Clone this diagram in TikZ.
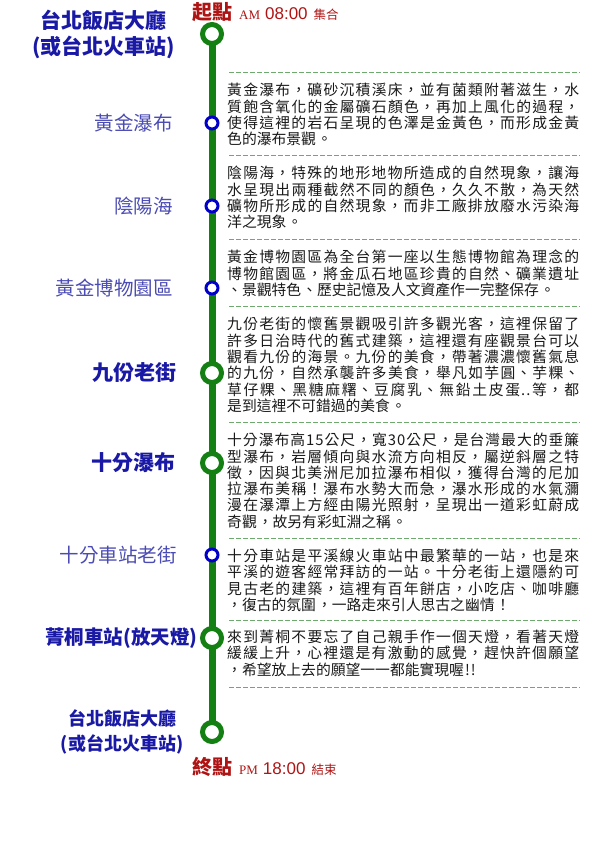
\documentclass[tikz,border=0pt]{standalone}
\usepackage{fontspec}
\setmainfont{Noto Sans CJK TC}
\newfontfamily\bodyfont[LetterSpace=7]{Noto Sans CJK TC}
\newfontfamily\timefont{Liberation Sans}
\newfontfamily\ampmfont{Liberation Serif}
\usepackage{xcolor}
\usetikzlibrary{positioning, backgrounds}
\definecolor{routegreen}{RGB}{20,128,20}
\definecolor{dashgreen}{RGB}{110,170,110}
\definecolor{stopblue}{RGB}{0,0,200}
\definecolor{namedark}{RGB}{25,25,165}
\definecolor{namelight}{RGB}{75,75,180}
\definecolor{notered}{RGB}{175,20,20}
\definecolor{bodygray}{RGB}{25,25,25}
\XeTeXlinebreaklocale "zh"
\XeTeXlinebreakskip=0pt plus 3pt
\setlength{\parindent}{0pt}

\begin{document}
\begin{tikzpicture}[
    x=1pt, y=-1pt,
    bigstop/.style={circle, draw=routegreen, line width=5pt, fill=white, minimum size=19pt, inner sep=0pt, outer sep=0pt},
    smallstop/.style={circle, draw=stopblue, line width=3pt, fill=white, minimum size=12pt, inner sep=0pt, outer sep=0pt},
    mainname/.style={font=\fontsize{21}{26}\selectfont\bfseries, text=namedark, inner sep=0pt, align=center},
    sidename/.style={font=\fontsize{19.5}{22}\selectfont, text=namelight, inner sep=0pt},
    desc/.style={anchor=north west, text width=352pt, align=justify, inner sep=0pt, font=\bodyfont\fontsize{14.8}{16.3}\selectfont, text=bodygray},
    timenote/.style={anchor=west, inner sep=0pt, text=notered},
    route/.style={routegreen, line width=7pt},
    sep/.style={dashgreen, line width=0.8pt, dash pattern=on 5pt off 2pt}
]
\useasboundingbox (0,0) rectangle (590,850);

\node[bigstop] (start) at (212,34) {};
\node[smallstop] (huangjin) at (212,123) {};
\node[smallstop] (yinyang) at (212,206) {};
\node[smallstop] (museum) at (212,288) {};
\node[bigstop] (jiufen) at (212,373) {};
\node[bigstop] (shifenfall) at (212,463) {};
\node[smallstop] (shifenst) at (212,555) {};
\node[bigstop] (jingtong) at (212,638) {};
\node[bigstop] (finish) at (212,732) {};

\begin{scope}[on background layer]
\draw[route] (start) -- (huangjin) -- (yinyang) -- (museum) -- (jiufen) -- (shifenfall) -- (shifenst) -- (jingtong) -- (finish);
\end{scope}

\node[mainname, left=27pt of start] (labstart) {台北飯店大廳\\(或台北火車站)};
\node[sidename, left=33pt of huangjin] (labhuangjin) {黃金瀑布};
\node[sidename, left=33pt of yinyang] (labyinyang) {陰陽海};
\node[sidename, left=33pt of museum] (labmuseum) {黃金博物園區};
\node[mainname, left=26pt of jiufen] (labjiufen) {九份老街};
\node[mainname, left=27pt of shifenfall] (labshifenfall) {十分瀑布};
\node[sidename, left=29pt of shifenst] (labshifenst) {十分車站老街};
\node[mainname, font=\fontsize{19.5}{24}\selectfont\bfseries, left=5pt of jingtong] (labjingtong) {菁桐車站(放天燈)};
\node[mainname, font=\fontsize{18}{25}\selectfont\bfseries, left=19pt of finish] (labfinish) {台北飯店大廳\\(或台北火車站)};

\node[timenote] (starttime) at (192,12) {{\fontsize{20}{20}\selectfont\bfseries 起點}\hspace{7pt}{\ampmfont\fontsize{13}{13}\selectfont AM}\hspace{5pt}{\timefont\fontsize{17}{17}\selectfont 08:00}\hspace{6pt}{\fontsize{12.5}{12.5}\selectfont 集合}};
\node[timenote] (finishtime) at (192,767) {{\fontsize{20}{20}\selectfont\bfseries 終點}\hspace{7pt}{\ampmfont\fontsize{13}{13}\selectfont PM}\hspace{5pt}{\timefont\fontsize{17}{17}\selectfont 18:00}\hspace{6pt}{\fontsize{12.5}{12.5}\selectfont 結束}};

\draw[sep] (229,72) -- (580,72);
\draw[sep] (229,155) -- (580,155);
\draw[sep] (229,239) -- (580,239);
\draw[sep] (229,306) -- (580,306);
\draw[sep] (229,422) -- (580,422);
\draw[sep] (229,538) -- (580,538);
\draw[sep] (229,620) -- (580,620);
\draw[sep] (229,687) -- (580,687);

\node[desc] (txthuangjin) at (227,83) {黃金瀑布，礦砂沉積溪床，並有菌類附著滋生，水\linebreak 質飽含氧化的金屬礦石顏色，再加上風化的過程，\linebreak 使得這裡的岩石呈現的色澤是金黃色，而形成金黃\linebreak 色的瀑布景觀。};
\node[desc] (txtyinyang) at (227,166) {陰陽海，特殊的地形地物所造成的自然現象，讓海\linebreak 水呈現出兩種截然不同的顏色，久久不散，為天然\linebreak 礦物所形成的自然現象，而非工廠排放廢水污染海\linebreak 洋之現象。};
\node[desc] (txtmuseum) at (227,250) {黃金博物園區為全台第一座以生態博物館為理念的\linebreak 博物館園區，將金瓜石地區珍貴的自然、礦業遺址\linebreak 、景觀特色、歷史記憶及人文資產作一完整保存。};
\node[desc] (txtjiufen) at (227,317) {九份老街的懷舊景觀吸引許多觀光客，這裡保留了\linebreak 許多日治時代的舊式建築，這裡還有座觀景台可以\linebreak 觀看九份的海景。九份的美食，帶著濃濃懷舊氣息\linebreak 的九份，自然承襲許多美食，舉凡如芋圓、芋粿、\linebreak 草仔粿、黑糖麻糬、豆腐乳、無鉛土皮蛋..等，都\linebreak 是到這裡不可錯過的美食。};
\node[desc] (txtshifenfall) at (227,433) {十分瀑布高15公尺，寬30公尺，是台灣最大的垂簾\linebreak 型瀑布，岩層傾向與水流方向相反，屬逆斜層之特\linebreak 徵，因與北美洲尼加拉瀑布相似，獲得台灣的尼加\linebreak 拉瀑布美稱！瀑布水勢大而急，瀑水形成的水氣瀰\linebreak 漫在瀑潭上方經由陽光照射，呈現出一道彩虹蔚成\linebreak 奇觀，故另有彩虹淵之稱。};
\node[desc] (txtshifenst) at (227,549) {十分車站是平溪線火車站中最繁華的一站，也是來\linebreak 平溪的遊客經常拜訪的一站。十分老街上還隱約可\linebreak 見古老的建築，這裡有百年餅店，小吃店、咖啡廳\linebreak ，復古的氛圍，一路走來引人思古之幽情！};
\node[desc] (txtjingtong) at (227,630) {來到菁桐不要忘了自己親手作一個天燈，看著天燈\linebreak 緩緩上升，心裡還是有激動的感覺，趕快許個願望\linebreak ，希望放上去的願望一一都能實現喔!!};

\end{tikzpicture}
\end{document}
